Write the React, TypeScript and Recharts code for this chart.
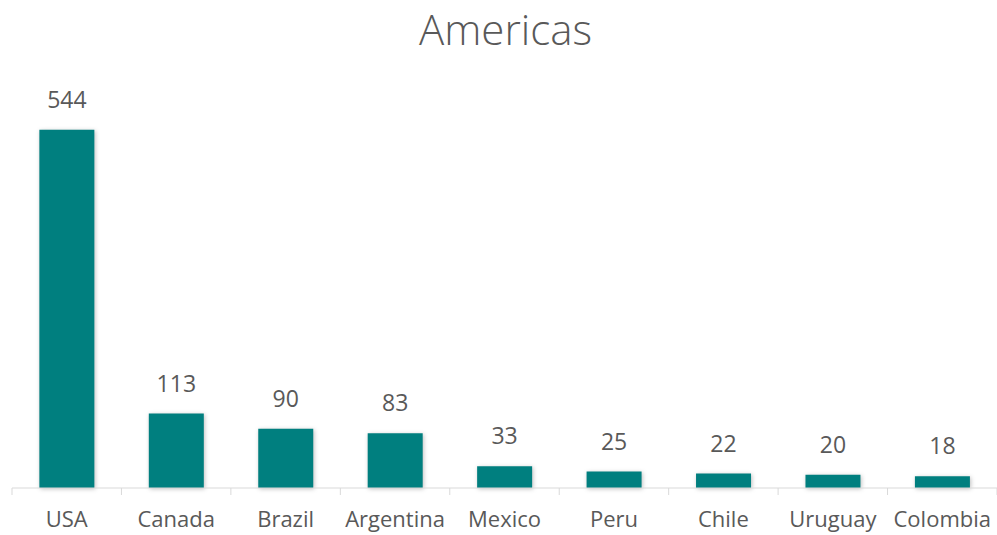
import { BarChart, Bar, XAxis, YAxis, LabelList } from "recharts";

const countries = ["USA", "Canada", "Brazil", "Argentina", "Mexico", "Peru", "Chile", "Uruguay", "Colombia"];
const counts = [544, 113, 90, 83, 33, 25, 22, 20, 18];

const data = countries.map((name, i) => ({ name, value: counts[i] }));

const WIDTH = 997;
const HEIGHT = 535;
const AXIS_HEIGHT = 30;
const MARGIN = { top: 93, right: 0, left: 12, bottom: 47 - AXIS_HEIGHT };
const BAND = (WIDTH - MARGIN.left - MARGIN.right) / countries.length;
const TEXT = "#595959";
const FONT = "'Open Sans', sans-serif";

function CategoryTick(props: any) {
  const { x, y, payload, index } = props;
  const half = BAND / 2;
  return (
    <g>
      <line x1={x - half} x2={x - half} y1={y} y2={y + 7} stroke="#d9d9d9" />
      {index === countries.length - 1 && (
        <line x1={x + half} x2={x + half} y1={y} y2={y + 7} stroke="#d9d9d9" />
      )}
      <text
        x={x}
        y={y + 30}
        textAnchor="middle"
        dominantBaseline="central"
        fill={TEXT}
        fontSize={22}
        fontFamily={FONT}
      >
        {payload.value}
      </text>
    </g>
  );
}

export default function App() {
  return (
    <div style={{ position: "absolute", left: 0, top: 0, width: WIDTH, height: HEIGHT, background: "#fff" }}>
      <BarChart width={WIDTH} height={HEIGHT} data={data} margin={MARGIN} barCategoryGap="25%">
        <XAxis
          dataKey="name"
          height={AXIS_HEIGHT}
          axisLine={{ stroke: "#d9d9d9" }}
          tickLine={false}
          tickSize={0}
          tickMargin={0}
          interval={0}
          tick={<CategoryTick />}
        />
        <YAxis hide domain={[0, 600]} />
        <Bar
          dataKey="value"
          fill="#007f7f"
          isAnimationActive={false}
          style={{ filter: "drop-shadow(1px 1px 2px rgba(0,0,0,0.25))" }}
        >
          <LabelList
            dataKey="value"
            position="top"
            offset={22}
            fill={TEXT}
            fontSize={23}
            fontFamily={FONT}
          />
        </Bar>
      </BarChart>
      <div
        style={{
          position: "absolute",
          left: 0,
          top: 0,
          width: WIDTH,
          zIndex: 2,
          pointerEvents: "none",
          textAlign: "center",
          fontFamily: FONT,
          fontWeight: 300,
          fontSize: 42,
          lineHeight: "normal",
          color: TEXT,
          paddingLeft: 14,
          boxSizing: "border-box",
        }}
      >
        Americas
      </div>
    </div>
  );
}
